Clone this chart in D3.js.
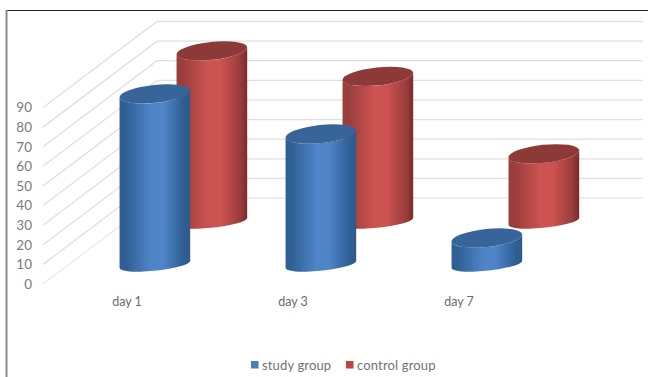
<!DOCTYPE html>
<html>
<head>
<meta charset="utf-8">
<script src="https://cdn.jsdelivr.net/npm/d3@7/dist/d3.min.js"></script>
<style>
html,body{margin:0;padding:0;background:#fff;overflow:hidden}
svg{display:block}
text{font-family:Lato,"Open Sans",sans-serif}
</style>
</head>
<body>
<script>
// Chart data
const categories = ["day 1", "day 3", "day 7"];
const seriesNames = ["study group", "control group"];
const studyValues = [87, 66.5, 13.5];
const controlValues = [87, 74, 34.5];
const valueTicks = [0, 10, 20, 30, 40, 50, 60, 70, 80, 90];

const seriesColors = {
  "study group": {edge: "#2f5f94", mid: "#4f85c8", right: "#2d5a88", cap: "#37659a", key: "#4a7ebb"},
  "control group": {edge: "#9a3d3c", mid: "#cd5351", right: "#782b2b", cap: "#8c3937", key: "#c0413f"}
};

const width = 648, height = 377;
const depthX = 114, depthY = 86;      // floor depth as drawn on screen
const gridRight = 643;
const capRx = 35.5, capRy = 9, baseRy = 6.2, capTilt = -6 * Math.PI / 180;

const svg = d3.select("body").append("svg").attr("width", width).attr("height", height);

const x = d3.scaleBand().domain(categories).range([46, 544]);
const y = d3.scaleLinear().domain([0, 90]).range([284, 107.5]);
const depth = d3.scalePoint().domain(seriesNames).range([0.227, 0.727]);

// Outer frame
svg.append("line").attr("x1", 6).attr("x2", width).attr("y1", 10.5).attr("y2", 10.5)
  .attr("stroke", "#222").attr("stroke-width", 1.2);
svg.append("line").attr("x1", 6.5).attr("x2", 6.5).attr("y1", 10).attr("y2", height)
  .attr("stroke", "#8a8a8a").attr("stroke-width", 2);

// Side wall diagonals and back wall rules
const grid = svg.append("g").attr("fill", "none").attr("stroke", "#dfdfdf");
grid.selectAll("path").data(valueTicks).join("path")
  .attr("stroke-width", d => d === 0 ? 1 : 1.3)
  .attr("d", d => d3.line()([[43, y(d)], [43 + depthX, y(d) - depthY], [gridRight, y(d) - depthY]]));

// Horizontal shading for the cylinder sides
const defs = svg.append("defs");
seriesNames.forEach((name, i) => {
  const c = seriesColors[name];
  const g = defs.append("linearGradient").attr("id", "side" + i);
  [[0, c.edge], [0.08, c.edge], [0.45, c.mid], [0.62, c.mid], [0.9, c.edge], [1, c.right]].forEach(([o, col]) =>
    g.append("stop").attr("offset", o).attr("stop-color", col));
});

// Extreme left/right points of the tilted elliptical cap
const halfW = Math.sqrt(capRx * capRx * Math.cos(capTilt) ** 2 + capRy * capRy * Math.sin(capTilt) ** 2);
const halfH = (capRx * capRx - capRy * capRy) * Math.sin(capTilt) * Math.cos(capTilt) / halfW;
const tiltDeg = capTilt * 180 / Math.PI;

// The base curve is flatter than the cap
function sidePath(cx, topY, baseY) {
  const lx = cx - halfW, rx = cx + halfW;
  return `M${lx},${topY - halfH}L${lx},${baseY - halfH}` +
    `A${capRx},${baseRy} ${tiltDeg} 0 0 ${rx},${baseY + halfH}` +
    `L${rx},${topY + halfH}` +
    `A${capRx},${capRy} ${tiltDeg} 0 1 ${lx},${topY - halfH}Z`;
}

// Back row first so the front row overlaps it
[[1, controlValues], [0, studyValues]].forEach(([s, values]) => {
  const name = seriesNames[s];
  const d = depth(name);
  const g = svg.append("g").attr("class", "series");
  const bars = g.selectAll("g").data(values).join("g");
  const cx = (v, i) => x(categories[i]) + x.bandwidth() / 2 + d * depthX;
  bars.append("path")
    .attr("fill", `url(#side${s})`)
    .attr("d", (v, i) => sidePath(cx(v, i), y(v) - d * depthY, y(0) - d * depthY));
  bars.append("ellipse")
    .attr("rx", capRx).attr("ry", capRy)
    .attr("fill", seriesColors[name].cap)
    .attr("transform", (v, i) => `translate(${cx(v, i)},${y(v) - d * depthY}) rotate(${tiltDeg})`);
});

// Value axis labels
const yAxis = svg.append("g").attr("transform", "translate(37,0)")
  .call(d3.axisLeft(y).tickValues(valueTicks).tickSize(0).tickPadding(5));
yAxis.select(".domain").remove();
yAxis.selectAll("text").attr("font-size", 13.5).attr("fill", "#7a7a7a")
  .style("font-family", "Lato,sans-serif");

// Category labels
const xAxis = svg.append("g").attr("transform", "translate(-2,297)")
  .call(d3.axisBottom(x).tickSize(0).tickPadding(0));
xAxis.select(".domain").remove();
xAxis.selectAll("text").attr("font-size", 12.5).attr("fill", "#6c6c6c")
  .style("font-family", "Lato,sans-serif");

// Legend
const legendX = [251, 346];
const legend = svg.append("g").selectAll("g").data(seriesNames).join("g")
  .attr("transform", (d, i) => `translate(${legendX[i]},361)`);
legend.append("rect").attr("width", 7.5).attr("height", 7.5).attr("fill", d => seriesColors[d].key);
legend.append("text").attr("x", 11).attr("y", 8.5).attr("font-size", 13).attr("letter-spacing", 0.15)
  .attr("fill", "#727272").text(d => d);
</script>
</body>
</html>
